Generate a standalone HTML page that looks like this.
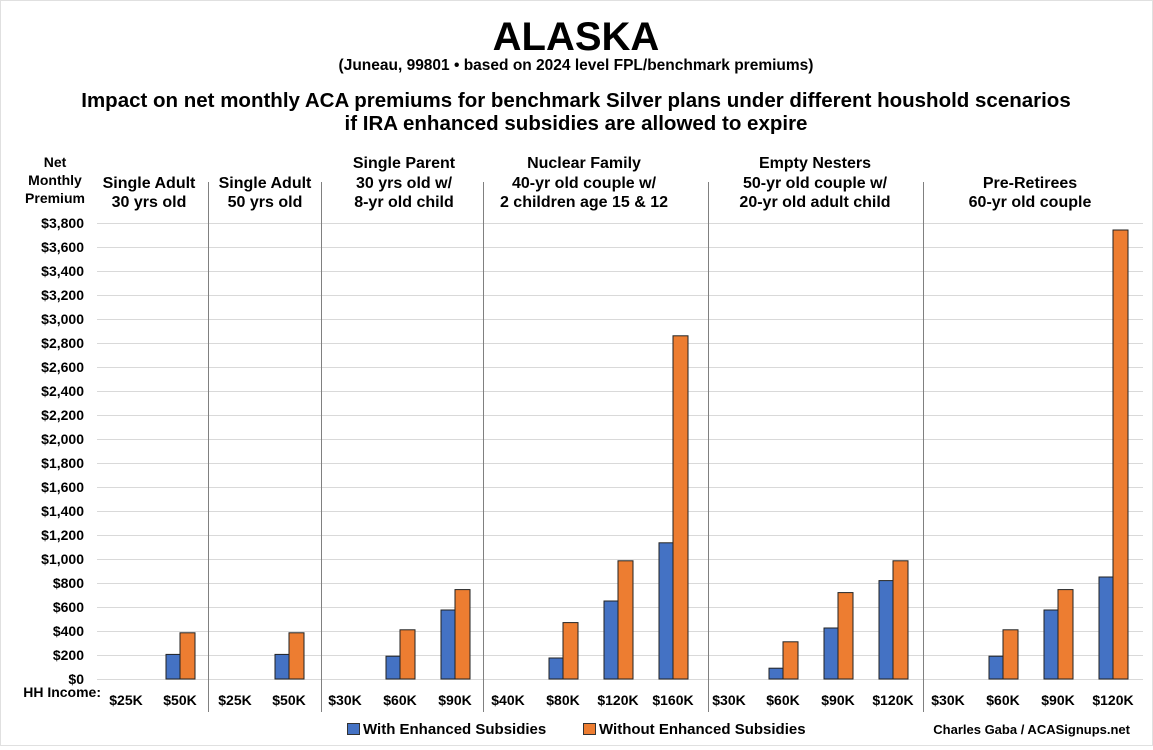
<!DOCTYPE html>
<html><head><meta charset="utf-8"><style>
html,body{margin:0;padding:0;background:#fff;}
svg{display:block;font-family:"Liberation Sans",sans-serif;font-weight:bold;}
</style></head><body>
<svg width="1153" height="750" viewBox="0 0 1153 750" xmlns="http://www.w3.org/2000/svg">
<rect x="0.5" y="0.5" width="1152" height="745" fill="#fff" stroke="#e0e0e0"/>
<text x="576" y="50" text-anchor="middle" font-size="40" fill="#000">ALASKA</text>
<text x="576" y="70" text-anchor="middle" font-size="15.5">(Juneau, 99801 • based on 2024 level FPL/benchmark premiums)</text>
<text x="576" y="107" text-anchor="middle" font-size="20.5">Impact on net monthly ACA premiums for benchmark Silver plans under different houshold scenarios</text>
<text x="576" y="130" text-anchor="middle" font-size="20.5">if IRA enhanced subsidies are allowed to expire</text>
<g font-size="14" text-anchor="middle">
<text x="55" y="167">Net</text><text x="55" y="185">Monthly</text><text x="55" y="203">Premium</text>
</g>
<g font-size="16" text-anchor="middle">
<text x="149" y="188">Single Adult</text><text x="149" y="207">30 yrs old</text>
<text x="265" y="188">Single Adult</text><text x="265" y="207">50 yrs old</text>
<text x="404" y="168">Single Parent</text><text x="404" y="188">30 yrs old w/</text><text x="404" y="207">8-yr old child</text>
<text x="584" y="168">Nuclear Family</text><text x="584" y="188">40-yr old couple w/</text><text x="584" y="207">2 children age 15 &amp; 12</text>
<text x="815" y="168">Empty Nesters</text><text x="815" y="188">50-yr old couple w/</text><text x="815" y="207">20-yr old adult child</text>
<text x="1030" y="188">Pre-Retirees</text><text x="1030" y="207">60-yr old couple</text>
</g>
<g stroke="#d9d9d9" stroke-width="1">
<line x1="97" x2="1143" y1="223.5" y2="223.5"/><line x1="97" x2="1143" y1="247.5" y2="247.5"/><line x1="97" x2="1143" y1="271.5" y2="271.5"/><line x1="97" x2="1143" y1="295.5" y2="295.5"/><line x1="97" x2="1143" y1="319.5" y2="319.5"/><line x1="97" x2="1143" y1="343.5" y2="343.5"/><line x1="97" x2="1143" y1="367.5" y2="367.5"/><line x1="97" x2="1143" y1="391.5" y2="391.5"/><line x1="97" x2="1143" y1="415.5" y2="415.5"/><line x1="97" x2="1143" y1="439.5" y2="439.5"/><line x1="97" x2="1143" y1="463.5" y2="463.5"/><line x1="97" x2="1143" y1="487.5" y2="487.5"/><line x1="97" x2="1143" y1="511.5" y2="511.5"/><line x1="97" x2="1143" y1="535.5" y2="535.5"/><line x1="97" x2="1143" y1="559.5" y2="559.5"/><line x1="97" x2="1143" y1="583.5" y2="583.5"/><line x1="97" x2="1143" y1="607.5" y2="607.5"/><line x1="97" x2="1143" y1="631.5" y2="631.5"/><line x1="97" x2="1143" y1="655.5" y2="655.5"/><line x1="97" x2="1143" y1="679.5" y2="679.5"/>
</g>
<g font-size="14" text-anchor="end">
<text x="84" y="228">$3,800</text><text x="84" y="252">$3,600</text><text x="84" y="276">$3,400</text><text x="84" y="300">$3,200</text><text x="84" y="324">$3,000</text><text x="84" y="348">$2,800</text><text x="84" y="372">$2,600</text><text x="84" y="396">$2,400</text><text x="84" y="420">$2,200</text><text x="84" y="444">$2,000</text><text x="84" y="468">$1,800</text><text x="84" y="492">$1,600</text><text x="84" y="516">$1,400</text><text x="84" y="540">$1,200</text><text x="84" y="564">$1,000</text><text x="84" y="588">$800</text><text x="84" y="612">$600</text><text x="84" y="636">$400</text><text x="84" y="660">$200</text><text x="84" y="684">$0</text>
</g>
<g stroke="#808080" stroke-width="1">
<line x1="208.5" x2="208.5" y1="182" y2="712"/><line x1="321.5" x2="321.5" y1="182" y2="712"/><line x1="483.5" x2="483.5" y1="182" y2="712"/><line x1="708.5" x2="708.5" y1="182" y2="712"/><line x1="923.5" x2="923.5" y1="182" y2="712"/>
</g>
<g stroke="#222" stroke-width="1">
<rect x="166" y="654.4" width="14" height="24.6" fill="#4472C4"/><rect x="180" y="632.8" width="15" height="46.2" fill="#ED7D31"/>
<rect x="275" y="654.4" width="14" height="24.6" fill="#4472C4"/><rect x="289" y="632.8" width="15" height="46.2" fill="#ED7D31"/>
<rect x="386" y="656.2" width="14" height="22.8" fill="#4472C4"/><rect x="400" y="629.8" width="15" height="49.2" fill="#ED7D31"/>
<rect x="441" y="610" width="14" height="69" fill="#4472C4"/><rect x="455" y="589.6" width="15" height="89.4" fill="#ED7D31"/>
<rect x="549" y="658" width="14" height="21" fill="#4472C4"/><rect x="563" y="622.6" width="15" height="56.4" fill="#ED7D31"/>
<rect x="604" y="601" width="14" height="78" fill="#4472C4"/><rect x="618" y="560.8" width="15" height="118.2" fill="#ED7D31"/>
<rect x="659" y="542.8" width="14" height="136.2" fill="#4472C4"/><rect x="673" y="335.8" width="15" height="343.2" fill="#ED7D31"/>
<rect x="769" y="668.2" width="14" height="10.8" fill="#4472C4"/><rect x="783" y="641.8" width="15" height="37.2" fill="#ED7D31"/>
<rect x="824" y="628" width="14" height="51" fill="#4472C4"/><rect x="838" y="592.6" width="15" height="86.4" fill="#ED7D31"/>
<rect x="879" y="580.6" width="14" height="98.4" fill="#4472C4"/><rect x="893" y="560.8" width="15" height="118.2" fill="#ED7D31"/>
<rect x="989" y="656.2" width="14" height="22.8" fill="#4472C4"/><rect x="1003" y="629.8" width="15" height="49.2" fill="#ED7D31"/>
<rect x="1044" y="610" width="14" height="69" fill="#4472C4"/><rect x="1058" y="589.6" width="15" height="89.4" fill="#ED7D31"/>
<rect x="1099" y="577" width="14" height="102" fill="#4472C4"/><rect x="1113" y="230" width="15" height="449" fill="#ED7D31"/>
</g>
<text x="101" y="697" text-anchor="end" font-size="14">HH Income:</text>
<g font-size="14" text-anchor="middle">
<text x="126" y="705">$25K</text><text x="180" y="705">$50K</text>
<text x="235" y="705">$25K</text><text x="289" y="705">$50K</text>
<text x="345" y="705">$30K</text><text x="400" y="705">$60K</text><text x="455" y="705">$90K</text>
<text x="508" y="705">$40K</text><text x="563" y="705">$80K</text><text x="618" y="705">$120K</text><text x="673" y="705">$160K</text>
<text x="729" y="705">$30K</text><text x="783" y="705">$60K</text><text x="838" y="705">$90K</text><text x="893" y="705">$120K</text>
<text x="948" y="705">$30K</text><text x="1003" y="705">$60K</text><text x="1058" y="705">$90K</text><text x="1113" y="705">$120K</text>
</g>
<rect x="347.5" y="723.5" width="12" height="11" fill="#4472C4" stroke="#333"/>
<text x="363" y="734" font-size="15">With Enhanced Subsidies</text>
<rect x="583.5" y="723.5" width="12" height="11" fill="#ED7D31" stroke="#333"/>
<text x="599" y="734" font-size="15">Without Enhanced Subsidies</text>
<text x="1130" y="734" text-anchor="end" font-size="13">Charles Gaba / ACASignups.net</text>
</svg>
</body></html>
